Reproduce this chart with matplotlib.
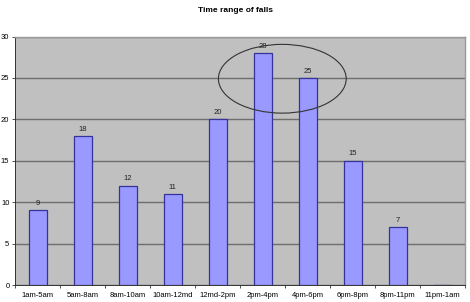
import matplotlib
matplotlib.use("Agg")
import matplotlib.pyplot as plt
from matplotlib.patches import Ellipse
import numpy as np

categories = ["1am-5am", "5am-8am", "8am-10am", "10am-12md", "12md-2pm",
              "2pm-4pm", "4pm-6pm", "6pm-8pm", "8pm-11pm", "11pm-1am"]
falls = [9, 18, 12, 11, 20, 28, 25, 15, 7, 0]
y_ticks = [0, 5, 10, 15, 20, 25, 30]

plt.rcParams['font.family'] = ['Liberation Sans', 'DejaVu Sans']

fig = plt.figure(figsize=(4.7, 3.02), dpi=100)
ax = fig.add_axes([15 / 470, 1 - 285 / 302, 450 / 470, 248.5 / 302])
ax.set_facecolor("#C0C0C0")

x = np.arange(len(categories))
bars = ax.bar(x, falls, width=0.4, color="#9999FF", edgecolor="#333399",
              linewidth=0.9, zorder=3)
for xi, v in zip(x, falls):
    if v > 0:
        ax.text(xi, v + 0.4, str(v), ha="center", va="bottom",
                fontsize=5.5, color="#222222", zorder=4)

ax.set_xlim(-0.5, len(categories) - 0.5)
ax.set_ylim(0, 30)
ax.set_yticks(y_ticks)
ax.set_yticklabels([str(t) for t in y_ticks], fontsize=5.5)
ax.set_xticks(x)
ax.set_xticklabels(categories, fontsize=5.5)
ax.tick_params(axis="x", length=0, pad=5)
ax.set_xticks(np.arange(-0.5, len(categories), 1.0), minor=True)
ax.tick_params(axis="x", which="minor", length=2, width=0.6, color="#333333")
ax.tick_params(axis="y", length=2, width=0.6, pad=2, color="#333333")

ax.yaxis.grid(True, color="#6E6E6E", linewidth=1.0, zorder=1)
ax.set_axisbelow(True)

for side in ["top", "right"]:
    ax.spines[side].set_color("#9A9A9A")
    ax.spines[side].set_linewidth(1.0)
ax.spines["left"].set_color("#333333")
ax.spines["left"].set_linewidth(0.7)
ax.spines["bottom"].set_color("#333333")
ax.spines["bottom"].set_linewidth(0.7)

# Highlight the afternoon peak
ax.add_patch(Ellipse((5.44, 24.9), 2.84, 8.3, fill=False,
                     edgecolor="#333333", linewidth=0.8, zorder=5))

fig.text(235 / 470, 1 - 10 / 302, "Time range of falls", ha="center",
         va="center", fontsize=6, fontweight="bold")

fig.savefig("out.png", dpi=100)
